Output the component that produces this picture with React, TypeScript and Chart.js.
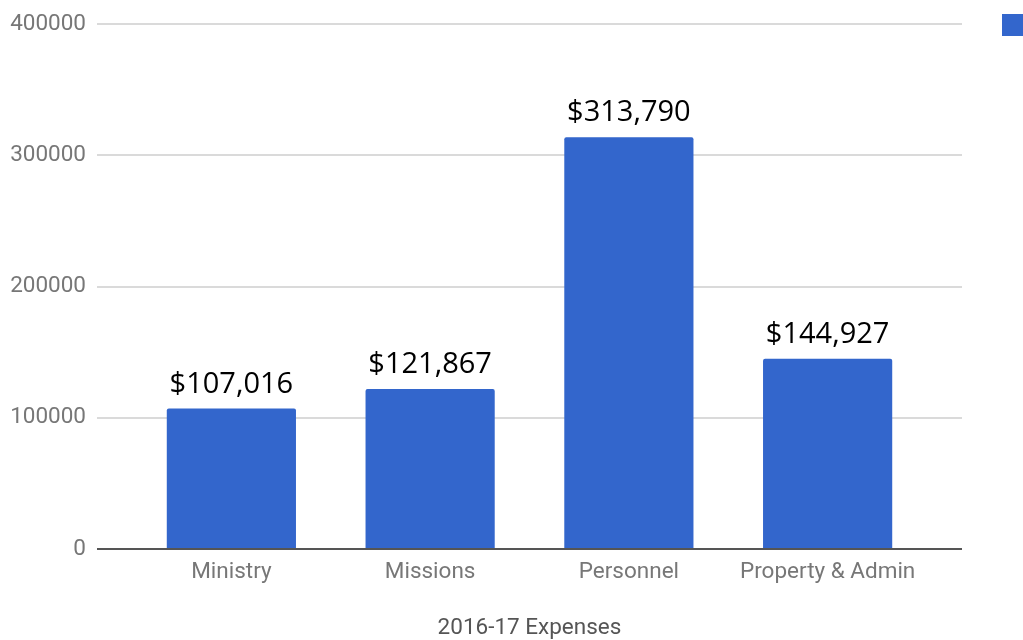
import React, { useEffect, useRef } from "react";
import { Chart, registerables } from "chart.js";

Chart.register(...registerables);

const categories = ["Ministry", "Missions", "Personnel", "Property & Admin"];
const expenses = [107016, 121867, 313790, 144927];
const yTicks = [0, 100000, 200000, 300000, 400000];
const axisTitle = "2016-17 Expenses";
const barColor = "#3366CC";

const gridPlugin = {
  id: "gridExt",
  beforeDatasetsDraw(chart: any) {
    const { ctx } = chart;
    const y = chart.scales.y;
    ctx.save();
    ctx.strokeStyle = "#dadada";
    ctx.lineWidth = 2;
    yTicks.forEach((v) => {
      if (v === 0) return;
      const py = Math.round(y.getPixelForValue(v));
      ctx.beginPath();
      ctx.moveTo(97, py);
      ctx.lineTo(962, py);
      ctx.stroke();
    });
    ctx.restore();
  },
  afterDatasetsDraw(chart: any) {
    const { ctx } = chart;
    const y = chart.scales.y;
    ctx.save();
    const py = Math.round(y.getPixelForValue(0));
    ctx.strokeStyle = "#555555";
    ctx.lineWidth = 2;
    ctx.beginPath();
    ctx.moveTo(97, py);
    ctx.lineTo(962, py);
    ctx.stroke();

    // value labels
    const meta = chart.getDatasetMeta(0);
    ctx.fillStyle = "#000000";
    ctx.font = '29px "Open Sans"';
    ctx.textAlign = "center";
    ctx.textBaseline = "alphabetic";
    meta.data.forEach((el: any, i: number) => {
      const txt = "$" + expenses[i].toLocaleString("en-US");
      ctx.fillText(txt, el.x, el.y - 16);
    });

    // axis title
    ctx.fillStyle = "#555555";
    ctx.font = '22.5px Roboto';
    ctx.textBaseline = "middle";
    ctx.fillText(axisTitle, (chart.chartArea.left + chart.chartArea.right) / 2, 628);

    // legend marker (cut at right edge)
    ctx.fillStyle = barColor;
    ctx.fillRect(1002, 14, 30, 22);
    ctx.restore();
  },
};

export default function App() {
  const ref = useRef<HTMLCanvasElement | null>(null);
  useEffect(() => {
    if (!ref.current) return;
    const chart = new Chart(ref.current, {
      type: "bar",
      data: {
        labels: categories,
        datasets: [
          {
            label: "2016-17 Expenses",
            data: expenses,
            backgroundColor: barColor,
            borderRadius: 2,
            borderSkipped: "bottom",
            categoryPercentage: 1,
            barPercentage: 0.65,
          },
        ],
      },
      options: {
        animation: false,
        responsive: false,
        maintainAspectRatio: false,
        layout: { padding: { top: 24, right: 96, bottom: 0, left: 0 } },
        plugins: {
          legend: { display: false },
          tooltip: { enabled: false },
        },
        scales: {
          x: {
            offset: true,
            grid: { display: false, drawTicks: false },
            border: { display: false },
            ticks: {
              color: "#777777",
              font: { family: "Roboto", size: 22.5 },
              padding: 10,
              maxRotation: 0,
              autoSkip: false,
            },
            afterFit(scale: any) {
              scale.height = 91;
              scale.paddingLeft = 0;
              scale.paddingRight = 0;
            },
          },
          y: {
            min: 0,
            max: 400000,
            grid: { display: false, drawTicks: false },
            border: { display: false },
            afterBuildTicks(scale: any) {
              scale.ticks = yTicks.map((v) => ({ value: v }));
            },
            ticks: {
              color: "#777777",
              font: { family: "Roboto", size: 22.5 },
              padding: 46,
              callback: (v: any) => String(v),
            },
            afterFit(scale: any) {
              scale.width = 132;
              scale.paddingTop = 0;
              scale.paddingBottom = 0;
            },
          },
        },
      },
      plugins: [gridPlugin],
    });
    return () => chart.destroy();
  }, []);
  return (
    <div style={{ position: "absolute", left: 0, top: 0, width: 1023, height: 640, background: "#fff" }}>
      <canvas ref={ref} width={1023} height={640} style={{ width: 1023, height: 640 }} />
    </div>
  );
}
